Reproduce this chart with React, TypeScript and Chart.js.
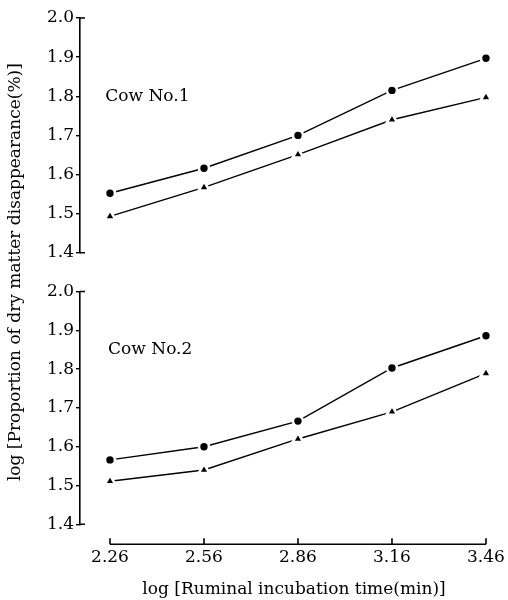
import React, { useEffect, useRef } from "react";
import { Chart, registerables } from "chart.js";

Chart.register(...registerables);

const xTicks = [2.26, 2.56, 2.86, 3.16, 3.46];
const cow1Circle = [1.552, 1.616, 1.7, 1.815, 1.897];
const cow1Triangle = [1.493, 1.567, 1.651, 1.74, 1.797];
const cow2Circle = [1.566, 1.6, 1.666, 1.803, 1.886];
const cow2Triangle = [1.511, 1.54, 1.62, 1.69, 1.789];
const yTickValues = [1.4, 1.5, 1.6, 1.7, 1.8, 1.9, 2.0];
const panelLabels = ["Cow No.1", "Cow No.2"];
const xTitle = "log [Ruminal incubation time(min)]";
const yTitle = "log [Proportion of dry matter disappearance(%)]";

const FONT = "'DejaVu Serif', 'Liberation Serif', serif";
const AXIS_W = 80;

function pts(ys: number[]) {
  return xTicks.map((x, i) => ({ x, y: ys[i] }));
}

function ds(label: string, ys: number[], axis: string, style: string) {
  return {
    label,
    data: pts(ys),
    yAxisID: axis,
    borderColor: "#000",
    borderWidth: 1.4,
    backgroundColor: "#000",
    pointStyle: style,
    pointRadius: style === "circle" ? 5.0 : 6.2,
    pointBorderWidth: 2.6,
    pointBorderColor: "#fff",
    pointBackgroundColor: "#000",
    tension: 0,
    fill: false,
    clip: false,
  };
}

const fixWidth = (s: any) => {
  s.width = AXIS_W;
};

const decor = {
  id: "decor",
  afterDraw(chart: any) {
    const ctx = chart.ctx;
    const xs = chart.scales.x;
    const yT = chart.scales.yTop;
    const yB = chart.scales.yBot;
    const axisY = chart.chartArea.bottom;
    ctx.save();
    ctx.strokeStyle = "#000";
    ctx.lineWidth = 1.6;
    ctx.beginPath();
    const x0 = xs.getPixelForValue(xTicks[0]);
    const x1 = xs.getPixelForValue(xTicks[xTicks.length - 1]);
    ctx.moveTo(x0, axisY);
    ctx.lineTo(x1, axisY);
    xTicks.forEach((v) => {
      const px = xs.getPixelForValue(v);
      ctx.moveTo(px, axisY);
      ctx.lineTo(px, axisY - 6);
    });
    [yT, yB].forEach((s: any) => {
      const r = s.right;
      const t = s.getPixelForValue(2.0);
      const b = s.getPixelForValue(1.4);
      ctx.moveTo(r, t);
      ctx.lineTo(r + 5, t);
      ctx.moveTo(r, b);
      ctx.lineTo(r + 5, b);
    });
    ctx.stroke();
    ctx.fillStyle = "#000";
    ctx.font = "17px " + FONT;
    ctx.textBaseline = "middle";
    ctx.textAlign = "left";
    ctx.fillText(panelLabels[0], xs.getPixelForValue(2.245), yT.getPixelForValue(1.8));
    ctx.fillText(panelLabels[1], xs.getPixelForValue(2.254), yB.getPixelForValue(1.85));
    ctx.restore();
  },
};

function yPanel(weight: number) {
  return {
    type: "linear",
    position: "left",
    stack: "v",
    stackWeight: weight,
    min: 1.4,
    max: 2.0,
    afterFit: fixWidth,
    afterBuildTicks: (s: any) => {
      s.ticks = yTickValues.map((v) => ({ value: v }));
    },
    ticks: {
      color: "#000",
      font: { family: FONT, size: 17 },
      padding: 2,
      autoSkip: false,
      callback: (v: any) => Number(v).toFixed(1),
    },
    grid: { display: true, drawOnChartArea: false, tickLength: 4, color: "#000", lineWidth: 1.4 },
    border: { display: true, color: "#000", width: 1.6 },
  };
}

function gapAxis(weight: number, withTitle: boolean) {
  return {
    type: "linear",
    position: "left",
    stack: "v",
    stackWeight: weight,
    min: 0,
    max: 1,
    afterFit: fixWidth,
    ticks: { display: false },
    grid: { display: false, drawTicks: false },
    border: { display: false },
    title: {
      display: withTitle,
      text: yTitle,
      color: "#000",
      font: { family: FONT, size: 17 },
      padding: { top: 5, bottom: 0 },
    },
  };
}

export default function App() {
  const ref = useRef<HTMLCanvasElement>(null);
  useEffect(() => {
    if (!ref.current) return;
    const chart = new Chart(ref.current, {
      type: "line",
      data: {
        datasets: [
          ds("Cow1 circle", cow1Circle, "yTop", "circle"),
          ds("Cow1 triangle", cow1Triangle, "yTop", "triangle"),
          ds("Cow2 circle", cow2Circle, "yBot", "circle"),
          ds("Cow2 triangle", cow2Triangle, "yBot", "triangle"),
        ] as any,
      },
      options: {
        animation: false,
        responsive: false,
        layout: { autoPadding: false, padding: { left: 0, right: 0, top: 18, bottom: 0 } },
        plugins: { legend: { display: false }, tooltip: { enabled: false } },
        scales: {
          x: {
            type: "linear",
            min: 2.1643,
            max: 3.5303,
            afterFit: (s: any) => {
              s.paddingLeft = 0;
              s.paddingRight = 0;
            },
            afterBuildTicks: (s: any) => {
              s.ticks = xTicks.map((v) => ({ value: v }));
            },
            ticks: {
              color: "#000",
              font: { family: FONT, size: 17 },
              padding: 3,
              maxRotation: 0,
              autoSkip: false,
              callback: (v: any) => Number(v).toFixed(2),
            },
            grid: { display: false, drawTicks: false },
            border: { display: false },
            title: {
              display: true,
              text: xTitle,
              color: "#000",
              font: { family: FONT, size: 17 },
              padding: { top: 9, bottom: 0 },
            },
          },
          yGap2: gapAxis(20, false),
          yBot: yPanel(234),
          yGap: gapAxis(39, true),
          yTop: yPanel(236),
        } as any,
      },
      plugins: [decor],
    });
    return () => chart.destroy();
  }, []);
  return (
    <div style={{ position: "fixed", left: 0, top: 0, width: 508, height: 600, background: "#fff" }}>
      <canvas ref={ref} width={508} height={600} style={{ width: 508, height: 600, display: "block" }} />
    </div>
  );
}
